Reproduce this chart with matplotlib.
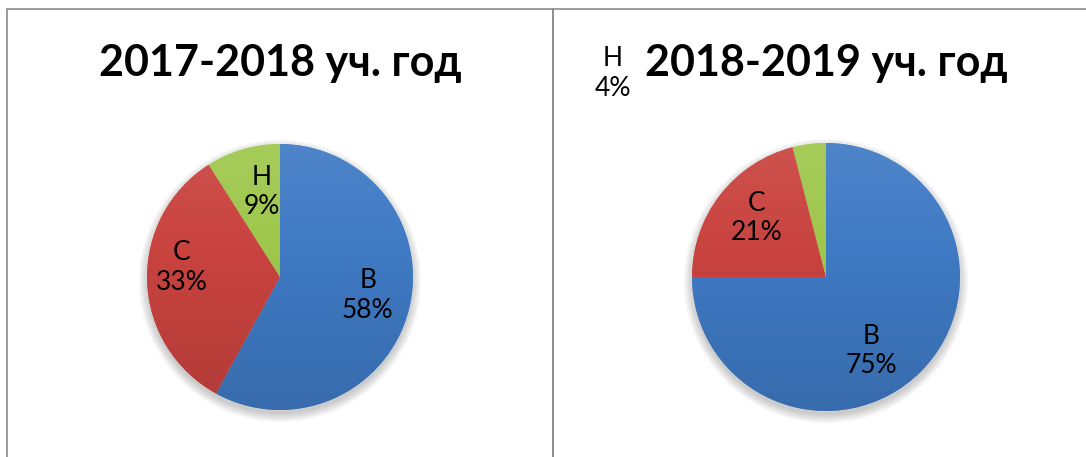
import matplotlib
matplotlib.use("Agg")
import matplotlib.pyplot as plt
import numpy as np
from matplotlib.patches import Rectangle, Circle
from matplotlib.colors import to_rgb

# ---- data ----
categories = ["В", "С", "Н"]
titles = ["2017-2018 уч. год", "2018-2019 уч. год"]
values_2017 = [58, 33, 9]
values_2018 = [75, 21, 4]
colors = ["#3F7AC4", "#C9433F", "#9EC74C"]

W, H = 1086, 457
fig = plt.figure(figsize=(W / 100, H / 100), dpi=100)
fig.patch.set_facecolor("white")

FONT = ["Lato", "Open Sans", "DejaVu Sans"]

def px_rect(x0, y0, x1, y1):
    return Rectangle((x0 / W, 1 - y1 / H), (x1 - x0) / W, (y1 - y0) / H,
                     transform=fig.transFigure, fill=False,
                     edgecolor="#8C8C8C", linewidth=1.2)

fig.patches.append(px_rect(7, 9, 553, H + 10))
fig.patches.append(px_rect(553, 9, W + 10, H + 10))

panels = [
    dict(values=values_2017, cx=280, cy=277, r=133, title=titles[0], tx=280,
         label_pos=[(0.66, -0.14), (-0.74, 0.07), (-0.14, 0.64)]),
    dict(values=values_2018, cx=826, cy=277, r=134, title=titles[1], tx=826,
         label_pos=[(0.34, -0.55), (-0.52, 0.44), (-1.59, 1.52)]),
]

def shade(c, f):
    rgb = np.array(to_rgb(c))
    if f >= 0:
        return rgb + (1 - rgb) * f
    return rgb * (1 + f)

for p in panels:
    r = p["r"]
    ax = fig.add_axes([(p["cx"] - r) / W, (H - p["cy"] - r) / H, 2 * r / W, 2 * r / H])
    for k in range(6):
        ax.add_patch(Circle((0.0, -0.03), 1.0 + 0.012 * k, facecolor="black",
                            alpha=0.035, edgecolor="none", zorder=0, clip_on=False))
    wedges, texts = ax.pie(
        p["values"], colors=colors, startangle=90, counterclock=False,
        radius=1.0, center=(0, 0), frame=True,
        labels=[f"{c}\n{v}%" for c, v in zip(categories, p["values"])],
        wedgeprops=dict(edgecolor=(1, 1, 1, 0.3), linewidth=0.8),
        textprops=dict(fontsize=19, family=FONT, color="black",
                       ha="center", va="center", linespacing=1.22),
    )
    yy = np.linspace(1, -1, 200)
    for w, c in zip(wedges, colors):
        grad = np.zeros((200, 2, 3))
        for i, y in enumerate(yy):
            grad[i, :, :] = shade(c, 0.10 * y - 0.02)
        im = ax.imshow(grad, extent=(-1, 1, -1, 1), origin="upper",
                       aspect="auto", zorder=w.get_zorder() + 0.1,
                       interpolation="bilinear")
        im.set_clip_path(w)
    ax.set_xlim(-1, 1)
    ax.set_ylim(-1, 1)
    ax.axis("off")
    for t, (lx, ly) in zip(texts, p["label_pos"]):
        t.set_position((lx, ly))
        t.set_ha("center")
        t.set_va("center")
        t.set_clip_on(False)
        t.set_zorder(5)
    fig.text(p["tx"] / W, 1 - 63 / H, p["title"], ha="center", va="center",
             fontsize=31, fontweight="bold", family=FONT, color="black")

fig.savefig("out.png", dpi=100, facecolor="white")
